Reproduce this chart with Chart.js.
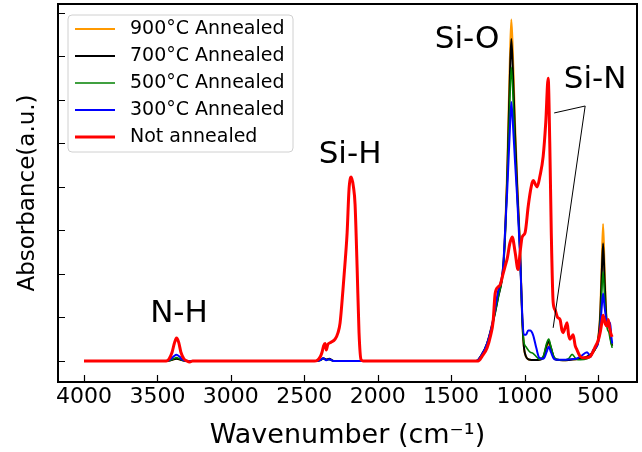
<!DOCTYPE html>
<html>
<head>
<meta charset="utf-8">
<script src="https://cdn.jsdelivr.net/npm/chart.js@4.4.1/dist/chart.umd.min.js"></script>
<style>
  html, body { margin: 0; padding: 0; background: #fff; }
  canvas { display: block; }
</style>
</head>
<body>
<canvas id="c" width="642" height="452"></canvas>
<script>
// ---- data ----
const seriesLabels = ['900°C Annealed', '700°C Annealed', '500°C Annealed', '300°C Annealed', 'Not annealed'];

// wavenumber grid shared by the annealed samples (cm-1, high -> low)
const annWn = [4000, 3440, 3410, 3390, 3370, 3350, 3330, 3300,
  2420, 2390, 2370, 2350, 2330, 2300,
  1330, 1290, 1255, 1214, 1180, 1146, 1132, 1118, 1100, 1090, 1080, 1065, 1050, 1030, 1016, 1005,
  990, 975, 962, 942, 920, 900, 870, 850, 835, 820, 800, 780, 740, 700, 676, 650, 620, 574, 550,
  533, 515, 500, 485, 475, 465, 455, 445, 437, 425, 417, 410, 403];

const abs900 = [0, 0, 0.003, 0.008, 0.01, 0.008, 0.003, 0,
  0, 0.004, 0.01, 0.006, 0.008, 0,
  0, 0.03, 0.08, 0.19, 0.30, 0.43, 0.60, 0.88, 1.38, 1.57, 1.43, 1.10, 0.83, 0.52, 0.21, 0.07,
  0.02, 0.008, 0.005, 0.004, 0.004, 0.005, 0.02, 0.06, 0.08, 0.055, 0.015, 0.005, 0.003, 0.004, 0.006, 0.008, 0.01, 0.02, 0.03,
  0.04, 0.06, 0.10, 0.22, 0.43, 0.63, 0.43, 0.24, 0.17, 0.18, 0.14, 0.09, 0.07];

const abs700 = [0, 0, 0.003, 0.008, 0.01, 0.008, 0.003, 0,
  0, 0.004, 0.012, 0.006, 0.01, 0,
  0, 0.03, 0.08, 0.18, 0.29, 0.42, 0.58, 0.84, 1.30, 1.48, 1.35, 1.05, 0.80, 0.50, 0.20, 0.07,
  0.02, 0.008, 0.005, 0.004, 0.004, 0.005, 0.02, 0.07, 0.09, 0.06, 0.015, 0.005, 0.003, 0.004, 0.006, 0.008, 0.01, 0.02, 0.03,
  0.04, 0.06, 0.09, 0.20, 0.38, 0.54, 0.38, 0.22, 0.16, 0.18, 0.14, 0.09, 0.07];

const abs500 = [0, 0, 0.003, 0.01, 0.015, 0.01, 0.003, 0,
  0, 0.003, 0.01, 0.004, 0.006, 0,
  0, 0.03, 0.08, 0.18, 0.29, 0.42, 0.57, 0.82, 1.20, 1.35, 1.24, 0.98, 0.76, 0.48, 0.20, 0.09,
  0.065, 0.05, 0.04, 0.035, 0.02, 0.008, 0.025, 0.08, 0.10, 0.065, 0.02, 0.008, 0.004, 0.01, 0.03, 0.01, 0.005, 0.01, 0.02,
  0.04, 0.06, 0.08, 0.17, 0.30, 0.41, 0.30, 0.20, 0.15, 0.13, 0.10, 0.08, 0.06];

const abs300 = [0, 0, 0.008, 0.02, 0.028, 0.02, 0.006, 0,
  0, 0.004, 0.012, 0.003, 0.008, 0,
  0, 0.03, 0.08, 0.19, 0.32, 0.43, 0.60, 0.78, 1.06, 1.19, 1.10, 0.92, 0.75, 0.48, 0.22, 0.12,
  0.12, 0.14, 0.14, 0.12, 0.06, 0.015, 0.01, 0.04, 0.065, 0.04, 0.01, 0.005, 0.005, 0.006, 0.008, 0.01, 0.02, 0.04, 0.02,
  0.05, 0.06, 0.08, 0.15, 0.24, 0.31, 0.25, 0.20, 0.17, 0.16, 0.175, 0.12, 0.08];

// the as-deposited film has its own grid
const rawWn = [4000, 3440, 3420, 3400, 3385, 3370, 3355, 3340, 3320, 3300, 3280, 3260,
  2430, 2413, 2390, 2379, 2368, 2358, 2350, 2340, 2320, 2290, 2270, 2256, 2236, 2220, 2208, 2195,
  2180, 2165, 2154, 2140, 2127, 2113, 2100,
  1316, 1290, 1255, 1230, 1214, 1200, 1180, 1166, 1146, 1130, 1118, 1100, 1084, 1064, 1044, 1030,
  1016, 996, 975, 960, 948, 940, 925, 914, 895, 873, 855, 839, 828, 818, 805, 792, 775, 758, 745,
  737, 720, 710, 700, 690, 680, 669, 655, 642, 625, 608, 580, 553, 535, 519, 500, 485, 475, 465,
  450, 437, 430, 420, 410, 403];
const rawAbs = [0, 0, 0.01, 0.04, 0.08, 0.105, 0.085, 0.04, 0.01, 0, -0.005, 0,
  0, 0.002, 0.02, 0.04, 0.07, 0.08, 0.05, 0.075, 0.085, 0.10, 0.13, 0.175, 0.33, 0.47, 0.59, 0.79,
  0.845, 0.80, 0.72, 0.43, 0.13, 0.005, 0,
  0, 0.02, 0.06, 0.12, 0.18, 0.31, 0.34, 0.35, 0.40, 0.44, 0.47, 0.54, 0.57, 0.50, 0.42, 0.50,
  0.57, 0.59, 0.71, 0.78, 0.82, 0.83, 0.81, 0.80, 0.85, 0.94, 1.10, 1.30, 1.00, 0.60, 0.27, 0.235, 0.20, 0.19, 0.14,
  0.13, 0.16, 0.175, 0.12, 0.10, 0.11, 0.12, 0.07, 0.05, 0.025, 0.015, 0.015, 0.02, 0.04, 0.065, 0.09, 0.13, 0.17, 0.21,
  0.17, 0.16, 0.19, 0.15, 0.12, 0.11];

const xTicks = [4000, 3500, 3000, 2500, 2000, 1500, 1000, 500];
const yTicks = [0, 0.2, 0.4, 0.6, 0.8, 1.0, 1.2, 1.4, 1.6];

// peak labels, in data coords (wavenumber, absorbance)
const peakNotes = [
  { text: 'Si-O', wn: 1391, a: 1.476 },
  { text: 'Si-N', wn: 519, a: 1.292 },
  { text: 'Si-H', wn: 2188, a: 0.947 },
  { text: 'N-H', wn: 3353, a: 0.216 }
];
const siNLeader = [[798, 1.140], [587, 1.172], [805, 0.152]];

const colors = ['#ff9900', '#000000', '#008000', '#0000ff', '#ff0000'];
const widths = [2, 2, 1.6, 2, 3];

const pts = (wn, ys) => wn.map((w, i) => ({ x: w, y: ys[i] }));
const allData = [pts(annWn, abs900), pts(annWn, abs700), pts(annWn, abs500), pts(annWn, abs300), pts(rawWn, rawAbs)];

// frame, inward ticks, peak labels and legend box
const decorations = {
  id: 'decorations',
  afterDatasetsDraw(chart) {
    const { ctx, chartArea: a, scales: { x, y } } = chart;
    ctx.save();
    ctx.strokeStyle = '#000';
    ctx.lineWidth = 1.2;
    ctx.beginPath();
    xTicks.forEach(v => {
      const px = Math.round(x.getPixelForValue(v)) + 0.5;
      ctx.moveTo(px, a.bottom); ctx.lineTo(px, a.bottom - 7);
    });
    yTicks.forEach(v => {
      const py = Math.round(y.getPixelForValue(v)) + 0.5;
      ctx.moveTo(a.left, py); ctx.lineTo(a.left + 7, py);
    });
    ctx.stroke();

    ctx.lineWidth = 2;
    ctx.strokeRect(a.left, a.top, a.right - a.left, a.bottom - a.top);

    // Si-N leader lines
    ctx.lineWidth = 1;
    ctx.beginPath();
    siNLeader.forEach(([w, v], i) => {
      const px = x.getPixelForValue(w), py = y.getPixelForValue(v);
      i ? ctx.lineTo(px, py) : ctx.moveTo(px, py);
    });
    ctx.stroke();

    ctx.fillStyle = '#000';
    ctx.font = '31px "DejaVu Sans"';
    ctx.textAlign = 'center';
    ctx.textBaseline = 'middle';
    peakNotes.forEach(n => ctx.fillText(n.text, x.getPixelForValue(n.wn), y.getPixelForValue(n.a)));

    // legend
    const lx = a.left + 10, ly = a.top + 11, lw = 225, lh = 137;
    ctx.beginPath();
    ctx.roundRect(lx, ly, lw, lh, 4);
    ctx.fillStyle = 'rgba(255,255,255,0.85)';
    ctx.fill();
    ctx.strokeStyle = '#d0d0d0';
    ctx.lineWidth = 1;
    ctx.stroke();
    ctx.font = '19px "DejaVu Sans"';
    ctx.textAlign = 'left';
    chart.data.datasets.forEach((ds, i) => {
      const cy = ly + 14 + i * 27;
      ctx.strokeStyle = ds.borderColor;
      ctx.lineWidth = ds.borderWidth;
      ctx.beginPath();
      ctx.moveTo(lx + 7, cy); ctx.lineTo(lx + 47, cy);
      ctx.stroke();
      ctx.fillStyle = '#000';
      ctx.fillText(ds.label, lx + 62, cy);
    });
    ctx.restore();
  }
};

new Chart(document.getElementById('c'), {
  type: 'line',
  data: {
    datasets: allData.map((d, i) => ({
      label: seriesLabels[i],
      data: d,
      borderColor: colors[i],
      borderWidth: widths[i],
      pointRadius: 0,
      cubicInterpolationMode: 'monotone',
      order: 5 - i
    }))
  },
  options: {
    responsive: false,
    devicePixelRatio: 1,
    animation: false,
    layout: { padding: { top: 4, right: 5, left: 0, bottom: 0 } },
    plugins: { legend: { display: false }, tooltip: { enabled: false } },
    scales: {
      x: {
        type: 'linear',
        reverse: true,
        min: 234,
        max: 4177,
        afterFit: s => { s.height = 70; },
        afterBuildTicks: s => { s.ticks = xTicks.map(v => ({ value: v })); },
        grid: { display: false, drawTicks: false },
        border: { display: false },
        ticks: { color: '#000', font: { family: 'DejaVu Sans', size: 22 }, padding: 2, maxRotation: 0,
                 callback: v => String(v) },
        title: { display: true, text: 'Wavenumber (cm⁻¹)', color: '#000',
                 font: { family: 'DejaVu Sans', size: 27 }, padding: { top: 0, bottom: 0 } }
      },
      y: {
        min: -0.097,
        max: 1.641,
        afterFit: s => { s.width = 58; },
        grid: { display: false, drawTicks: false },
        border: { display: false },
        ticks: { display: false },
        title: { display: true, text: 'Absorbance(a.u.)', color: '#000',
                 font: { family: 'DejaVu Sans', size: 23 }, padding: { top: 14, bottom: 0 } }
      }
    }
  },
  plugins: [decorations]
});
</script>
</body>
</html>
